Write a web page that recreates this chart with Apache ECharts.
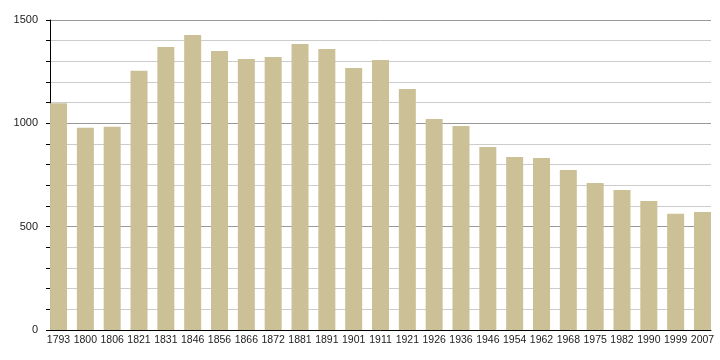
<!DOCTYPE html>
<html>
<head>
<meta charset="utf-8">
<script src="https://cdn.jsdelivr.net/npm/echarts@6/dist/echarts.min.js"></script>
<style>html,body{margin:0;padding:0;background:#fff}#c{width:720px;height:360px}</style>
</head>
<body>
<div id="c"></div>
<script>
const years = ['1793','1800','1806','1821','1831','1846','1856','1866','1872','1881','1891','1901','1911','1921','1926','1936','1946','1954','1962','1968','1975','1982','1990','1999','2007'];
const population = [1097,979,984,1255,1369,1427,1350,1311,1321,1384,1360,1268,1306,1166,1021,987,885,837,832,774,711,677,624,563,571];
const yTicks = [0,500,1000,1500];

const font = 'Liberation Sans, Arial, sans-serif';
const chart = echarts.init(document.getElementById('c'), null, {renderer:'canvas'});
chart.setOption({
  animation:false,
  backgroundColor:'#fff',
  grid:[
    {left:50, right:9, top:20, bottom:30},
    {left:45.1, right:4.1, top:20, bottom:30}
  ],
  xAxis:[
    {gridIndex:0, type:'category', data:years, axisLine:{lineStyle:{color:'#000',width:1}}, axisTick:{show:false}, axisLabel:{show:false}},
    {gridIndex:1, type:'category', data:years, axisLine:{show:false}, axisTick:{show:false},
     axisLabel:{interval:0, margin:5, color:'#222', fontSize:10.5, fontFamily:font}}
  ],
  yAxis:[
    {gridIndex:0, type:'value', min:yTicks[0], max:yTicks[yTicks.length-1], interval:500,
     axisLine:{show:true, lineStyle:{color:'#000',width:1}},
     axisTick:{show:true, length:4, lineStyle:{color:'#000'}},
     minorTick:{show:true, splitNumber:5, length:4, lineStyle:{color:'#000'}},
     splitLine:{show:true, lineStyle:{color:'#999', width:1}},
     minorSplitLine:{show:true, lineStyle:{color:'#ccc', width:1}},
     axisLabel:{margin:12, color:'#222', fontSize:11, fontFamily:font, formatter:function(v){return String(v);}}},
    {gridIndex:1, type:'value', min:yTicks[0], max:yTicks[yTicks.length-1], show:false, splitLine:{show:false}}
  ],
  series:[{
    type:'bar', xAxisIndex:1, yAxisIndex:1, data:population, barWidth:17,
    itemStyle:{color:'#cbc096'}
  }]
});
</script>
</body>
</html>
